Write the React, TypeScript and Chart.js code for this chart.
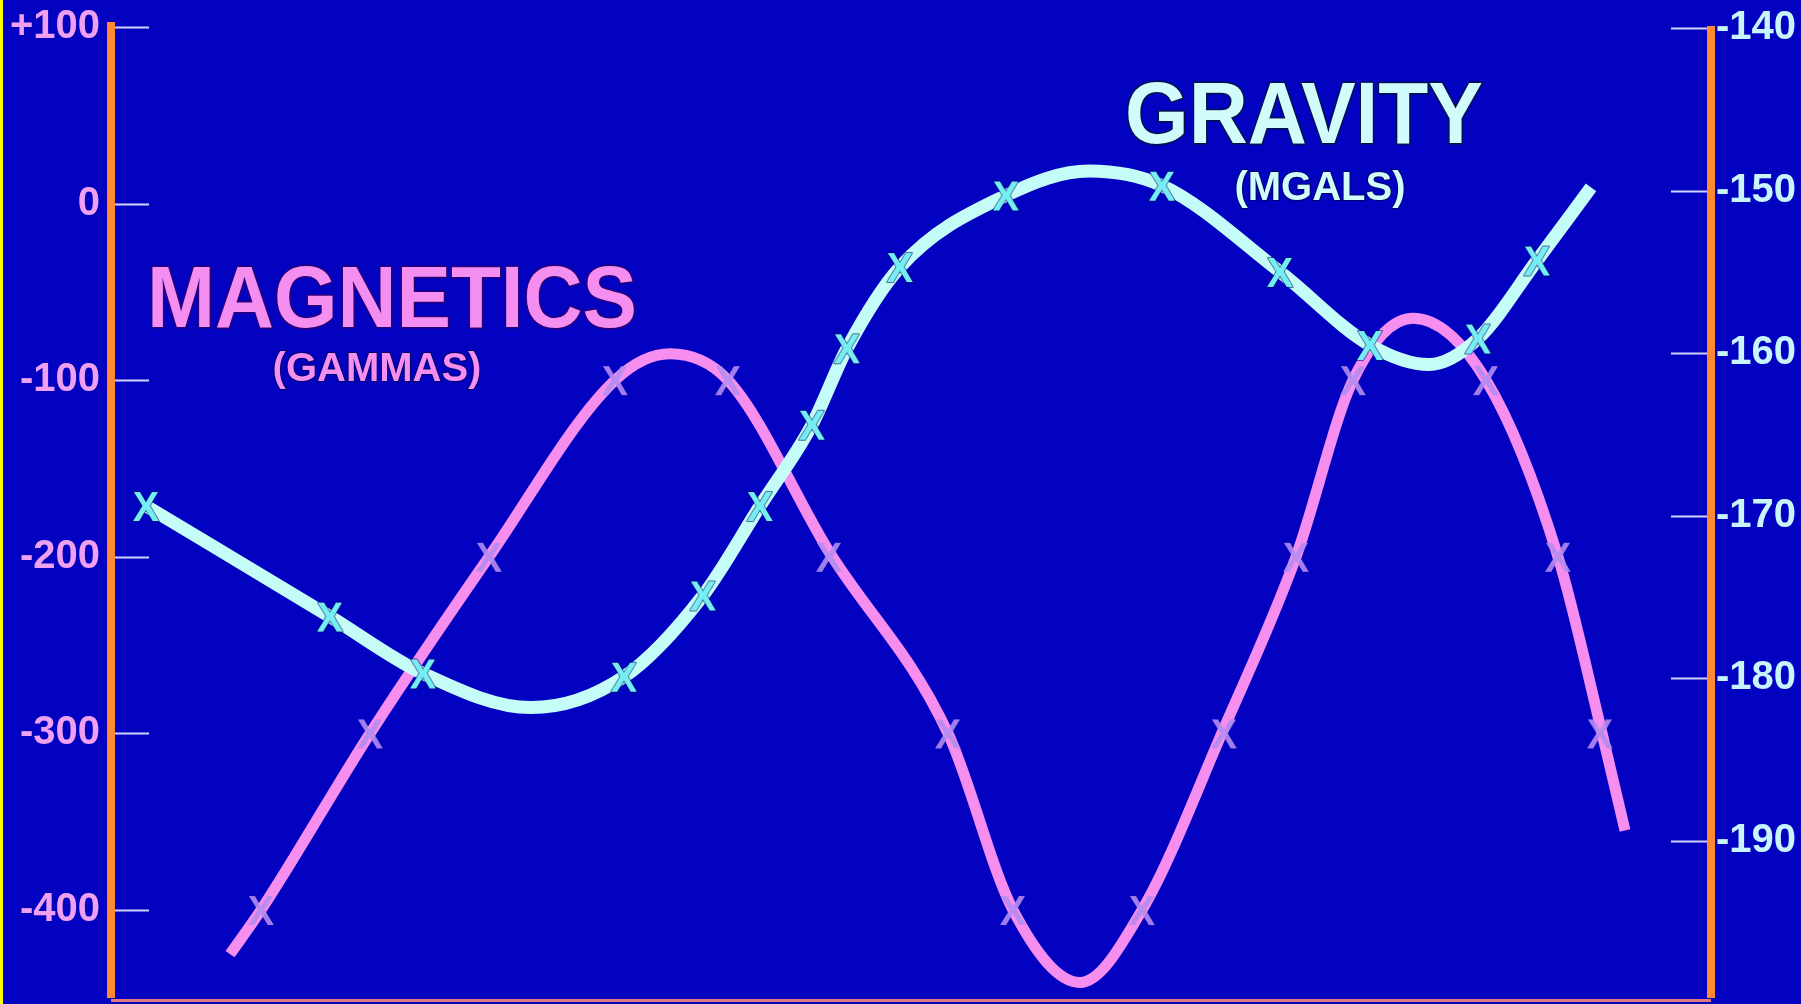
import React, { useEffect, useRef } from "react";
import { Chart, registerables } from "chart.js";

Chart.register(...registerables);

// ---- Data (distance along profile, value) ----
const magLineX = [11.9, 15.0, 25.9, 37.8, 50.4, 55.9, 61.7, 71.8, 83.7, 90.2, 96.9, 103.1, 111.3, 118.5, 124.2, 130.2, 137.5, 144.7, 148.9, 151.4];
const magLineY = [-425, -400, -300, -200, -100, -85, -100, -197, -300, -400, -441, -400, -297, -200, -100, -65, -100, -200, -295, -355];

const magMarkX = [15.0, 25.9, 37.8, 50.4, 61.7, 71.8, 83.7, 90.2, 103.1, 111.3, 118.5, 124.2, 137.5, 144.7, 148.9];
const magMarkY = [-400, -300, -200, -100, -100, -200, -300, -400, -400, -300, -200, -100, -100, -200, -300];

const gravLineX = [3.5, 21.9, 31.2, 42.0, 51.3, 59.2, 64.9, 70.1, 73.6, 78.9, 89.5, 97.8, 105.1, 116.9, 125.9, 131.8, 136.7, 142.6, 148.0];
const gravLineY = [-169.4, -176.2, -179.7, -181.8, -179.9, -174.9, -169.4, -164.4, -159.7, -154.7, -150.3, -148.8, -149.7, -155.0, -159.5, -160.7, -159.1, -154.3, -149.8];

const gravMarkX = [3.5, 21.9, 31.2, 51.3, 59.2, 64.9, 70.1, 73.6, 78.9, 89.5, 105.1, 116.9, 125.9, 136.7, 142.6];
const gravMarkY = [-169.4, -176.2, -179.7, -179.9, -174.9, -169.4, -164.4, -159.7, -154.7, -150.3, -149.7, -155.0, -159.5, -159.1, -154.3];

const leftTicks = [100, 0, -100, -200, -300, -400];
const rightTicks = [-140, -150, -160, -170, -180, -190];

const magTitle = "MAGNETICS";
const magUnit = "(GAMMAS)";
const gravTitle = "GRAVITY";
const gravUnit = "(MGALS)";

// ---- Styles ----
const BG = "#0202c0";
const ORANGE = "#ff8a33";
const MAG_COLOR = "#f68ef0";
const MAG_TEXT = "#f48ef0";
const MAG_MARK = "rgba(178,140,240,0.9)";
const LEFT_LABEL = "#f0a0f0";
const GRAV_COLOR = "#c4fcf8";
const GRAV_TEXT = "#d0fcfc";
const GRAV_MARK = "#74eef2";
const RIGHT_LABEL = "#c8f4fc";
const TICK_LINE = "#d0d4ff";
const FONT = '"Liberation Sans", Arial, Helvetica, sans-serif';

function makeX(fill: string, stroke?: string): HTMLCanvasElement {
  const c = document.createElement("canvas");
  c.width = 38;
  c.height = 40;
  const g = c.getContext("2d")!;
  g.font = `bold 43px ${FONT}`;
  g.textAlign = "center";
  g.textBaseline = "alphabetic";
  const cx = 19;
  const by = 20 + (0.716 * 43) / 2;
  g.save();
  g.translate(cx, by);
  g.scale(0.92, 1);
  if (stroke) {
    g.lineWidth = 2;
    g.strokeStyle = stroke;
    g.lineJoin = "round";
    g.strokeText("X", 0, 0);
  }
  g.fillStyle = fill;
  g.fillText("X", 0, 0);
  g.restore();
  return c;
}

function drawFitted(
  ctx: CanvasRenderingContext2D,
  text: string,
  left: number,
  right: number,
  baseline: number,
  capH: number,
  color: string,
  stroke: string
) {
  const fs = capH / 0.716;
  ctx.save();
  ctx.font = `bold ${fs}px ${FONT}`;
  ctx.textAlign = "left";
  ctx.textBaseline = "alphabetic";
  const w = ctx.measureText(text).width;
  const sx = (right - left) / w;
  ctx.translate(left, baseline);
  ctx.scale(sx, 1);
  ctx.lineWidth = 3;
  ctx.lineJoin = "round";
  ctx.strokeStyle = stroke;
  ctx.strokeText(text, 0, 0);
  ctx.fillStyle = color;
  ctx.fillText(text, 0, 0);
  ctx.restore();
}

function drawCentered(
  ctx: CanvasRenderingContext2D,
  text: string,
  cx: number,
  baseline: number,
  size: number,
  color: string
) {
  ctx.save();
  ctx.font = `bold ${size}px ${FONT}`;
  ctx.textAlign = "center";
  ctx.textBaseline = "alphabetic";
  ctx.lineWidth = 2;
  ctx.strokeStyle = "rgba(0,0,80,0.8)";
  ctx.strokeText(text, cx, baseline);
  ctx.fillStyle = color;
  ctx.fillText(text, cx, baseline);
  ctx.restore();
}

const decorPlugin = {
  id: "decor",
  beforeDraw(chart: any) {
    const { ctx, width, height } = chart;
    ctx.save();
    ctx.fillStyle = BG;
    ctx.fillRect(0, 0, width, height);
    ctx.fillStyle = "#ffff00";
    ctx.fillRect(0, 0, 3, height);
    ctx.restore();
  },
  beforeDatasetsDraw(chart: any) {
    const { ctx, chartArea } = chart;
    const yL = chart.scales.yL;
    const yR = chart.scales.yR;
    ctx.save();
    ctx.strokeStyle = TICK_LINE;
    ctx.lineWidth = 2;
    for (const t of leftTicks) {
      const y = Math.round(yL.getPixelForValue(t)) + 0.5;
      ctx.beginPath();
      ctx.moveTo(chartArea.left + 4, y);
      ctx.lineTo(chartArea.left + 38, y);
      ctx.stroke();
    }
    for (const t of rightTicks) {
      const y = Math.round(yR.getPixelForValue(t)) + 0.5;
      ctx.beginPath();
      ctx.moveTo(chartArea.right - 40, y);
      ctx.lineTo(chartArea.right - 4, y);
      ctx.stroke();
    }
    ctx.restore();

    drawFitted(ctx, magTitle, 147, 637, 327, 63, MAG_TEXT, "rgba(60,0,90,0.7)");
    drawCentered(ctx, magUnit, 377, 381, 40, MAG_TEXT);
    drawFitted(ctx, gravTitle, 1125, 1483, 143, 63, GRAV_TEXT, "rgba(0,20,60,0.9)");
    drawCentered(ctx, gravUnit, 1320, 200, 40, GRAV_TEXT);
  },
  afterDatasetsDraw(chart: any) {
    const { ctx, chartArea } = chart;
    ctx.save();
    // bottom baseline
    ctx.fillStyle = "#e07a80";
    ctx.fillRect(chartArea.left, chartArea.bottom + 1, chartArea.right - chartArea.left, 3);
    // orange axis bars
    ctx.fillStyle = ORANGE;
    ctx.fillRect(chartArea.left - 4, chartArea.top, 8, chartArea.bottom - chartArea.top);
    ctx.fillRect(chartArea.right - 4, chartArea.top + 4, 8, chartArea.bottom - chartArea.top - 4);
    ctx.restore();
  },
};

const fixPad = (w: number) => (s: any) => {
  s.width = w;
  s.paddingTop = 0;
  s.paddingBottom = 0;
};

export default function App() {
  const ref = useRef<HTMLCanvasElement | null>(null);

  useEffect(() => {
    if (!ref.current) return;
    const magX = makeX(MAG_MARK);
    const gravX = makeX(GRAV_MARK, "rgba(0,10,90,0.6)");

    const chart = new Chart(ref.current, {
      type: "line",
      data: {
        datasets: [
          {
            label: "Magnetics",
            data: magLineX.map((x, i) => ({ x, y: magLineY[i] })),
            yAxisID: "yL",
            borderColor: MAG_COLOR,
            borderWidth: 11,
            borderCapStyle: "butt",
            borderJoinStyle: "round",
            pointRadius: 0,
            cubicInterpolationMode: "monotone",
            fill: false,
            order: 4,
          },
          {
            label: "Gravity",
            data: gravLineX.map((x, i) => ({ x, y: gravLineY[i] })),
            yAxisID: "yR",
            borderColor: GRAV_COLOR,
            borderWidth: 13,
            borderCapStyle: "butt",
            borderJoinStyle: "round",
            pointRadius: 0,
            cubicInterpolationMode: "monotone",
            fill: false,
            order: 3,
          },
          {
            label: "Magnetics stations",
            data: magMarkX.map((x, i) => ({ x, y: magMarkY[i] })),
            yAxisID: "yL",
            showLine: false,
            pointStyle: magX as any,
            pointRadius: 10,
            order: 2,
          },
          {
            label: "Gravity stations",
            data: gravMarkX.map((x, i) => ({ x, y: gravMarkY[i] })),
            yAxisID: "yR",
            showLine: false,
            pointStyle: gravX as any,
            pointRadius: 10,
            order: 1,
          },
        ] as any,
      },
      options: {
        animation: false,
        responsive: false,
        events: [],
        layout: { autoPadding: false, padding: { top: 22, bottom: 6, left: 0, right: 0 } },
        plugins: { legend: { display: false }, tooltip: { enabled: false } },
        scales: {
          x: { type: "linear", display: false, min: 0, max: 160 },
          yL: {
            type: "linear",
            position: "left",
            min: -449.8,
            max: 102.8,
            afterFit: fixPad(111),
            afterBuildTicks: (s: any) => {
              s.ticks = leftTicks.map((v) => ({ value: v }));
            },
            grid: { display: false, drawTicks: false },
            border: { display: false },
            ticks: {
              padding: 11,
              color: LEFT_LABEL,
              font: { family: FONT, size: 40, weight: "bold" },
              callback: (v: any) => (v > 0 ? "+" + v : String(v)),
            },
          },
          yR: {
            type: "linear",
            position: "right",
            min: -199.66,
            max: -139.63,
            afterFit: fixPad(90),
            afterBuildTicks: (s: any) => {
              s.ticks = rightTicks.map((v) => ({ value: v }));
            },
            grid: { display: false, drawTicks: false },
            border: { display: false },
            ticks: {
              padding: 5,
              color: RIGHT_LABEL,
              font: { family: FONT, size: 40, weight: "bold" },
              callback: (v: any) => String(v),
            },
          },
        } as any,
      },
      plugins: [decorPlugin],
    });
    return () => chart.destroy();
  }, []);

  return (
    <div style={{ position: "fixed", left: 0, top: 0, width: 1801, height: 1004, background: BG }}>
      <canvas ref={ref} width={1801} height={1004} style={{ width: 1801, height: 1004, display: "block" }} />
    </div>
  );
}
